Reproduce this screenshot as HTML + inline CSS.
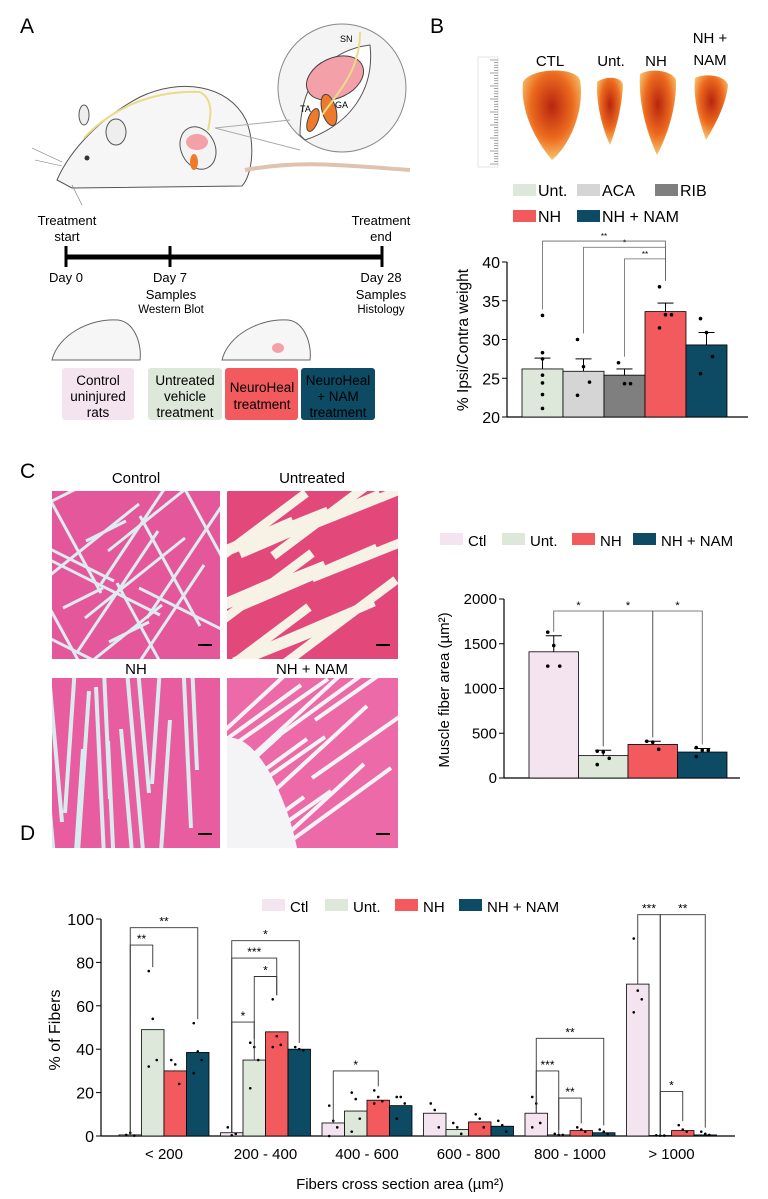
<!DOCTYPE html>
<html><head><meta charset="utf-8"><style>
html,body{margin:0;padding:0;background:#fff;}
body{width:768px;height:1194px;position:relative;overflow:hidden;font-family:"Liberation Sans",sans-serif;}
svg text{font-family:"Liberation Sans",sans-serif;}
</style></head><body>
<svg id="fig" width="768" height="1194" viewBox="0 0 768 1194" xmlns="http://www.w3.org/2000/svg">
<defs>
<radialGradient id="musc" cx="0.5" cy="0.4" r="0.6"><stop offset="0" stop-color="#b8250f"/><stop offset="0.6" stop-color="#ec6a1e"/><stop offset="1" stop-color="#f7c46a"/></radialGradient>
</defs>
<text x="20" y="33" font-size="21">A</text>
<text x="430" y="33" font-size="21">B</text>
<text x="20" y="478" font-size="21">C</text>
<text x="20" y="840" font-size="21">D</text>

<g>
 <path d="M57,180 C70,150 100,118 140,97 C180,78 228,84 246,120 C256,145 252,175 242,186 L72,188 Z" fill="#f6f6f6" stroke="#555" stroke-width="1"/>
 <path d="M84,138 C110,110 150,90 200,92" fill="none" stroke="#e8dc8a" stroke-width="2"/>
 <path d="M200,92 C215,100 210,120 208,130" fill="none" stroke="#e8dc8a" stroke-width="2"/>
 <ellipse cx="84" cy="115" rx="5" ry="10" fill="#eee" stroke="#555"/>
 <ellipse cx="116" cy="132" rx="10" ry="13" fill="#eee" stroke="#555"/>
 <circle cx="87" cy="158" r="2.5" fill="#333"/>
 <ellipse cx="198" cy="148" rx="17" ry="22" fill="#f3f3f3" stroke="#555" transform="rotate(-25 198 148)"/>
 <ellipse cx="197" cy="142" rx="11" ry="8" fill="#f4a0a8"/>
 <ellipse cx="194" cy="162" rx="4" ry="8" fill="#ef7a2a"/>
 <path d="M245,170 C300,160 340,165 410,170" fill="none" stroke="#dfc2b0" stroke-width="4"/>
 <line x1="32" y1="148" x2="62" y2="162" stroke="#777" stroke-width="0.6"/>
 <line x1="35" y1="160" x2="62" y2="166" stroke="#777" stroke-width="0.6"/>
 <line x1="72" y1="185" x2="82" y2="205" stroke="#777" stroke-width="0.6"/>
 <circle cx="342" cy="88" r="64" fill="#f4f4f4" stroke="#888"/>
 <path d="M300,135 C300,80 330,50 370,45 C375,90 350,125 305,140 Z" fill="#fff" stroke="#555"/>
 <ellipse cx="335" cy="78" rx="30" ry="20" fill="#f3a0a8" stroke="#444" transform="rotate(-25 335 78)"/>
 <ellipse cx="313" cy="120" rx="5" ry="12" fill="#ef7a2a" stroke="#444" transform="rotate(20 313 120)"/>
 <ellipse cx="329" cy="110" rx="7" ry="16" fill="#ef7a2a" stroke="#444" transform="rotate(-15 329 110)"/>
 <path d="M360,32 C360,70 340,90 322,115" fill="none" stroke="#e8dc8a" stroke-width="2"/>
 <text x="340" y="42" font-size="9">SN</text><text x="300" y="112" font-size="9">TA</text><text x="335" y="108" font-size="9">GA</text>
 <line x1="215" y1="128" x2="290" y2="120" stroke="#aaa"/>
 <line x1="215" y1="128" x2="300" y2="150" stroke="#aaa"/>
</g>
<g font-size="13">
 <text x="67" y="225" text-anchor="middle">Treatment</text><text x="67" y="241" text-anchor="middle">start</text>
 <text x="381" y="225" text-anchor="middle">Treatment</text><text x="381" y="241" text-anchor="middle">end</text>
 <line x1="66" y1="257" x2="382" y2="257" stroke="#000" stroke-width="5"/>
 <line x1="66" y1="246" x2="66" y2="267" stroke="#000" stroke-width="3"/>
 <line x1="170" y1="246" x2="170" y2="267" stroke="#000" stroke-width="3"/>
 <line x1="382" y1="246" x2="382" y2="267" stroke="#000" stroke-width="3"/>
 <text x="66" y="282" text-anchor="middle">Day 0</text>
 <text x="170" y="282" text-anchor="middle">Day 7</text><text x="171" y="299" text-anchor="middle">Samples</text><text x="171" y="313" text-anchor="middle" font-size="11.5">Western Blot</text>
 <text x="381" y="282" text-anchor="middle">Day 28</text><text x="381" y="299" text-anchor="middle">Samples</text><text x="381" y="313" text-anchor="middle" font-size="11.5">Histology</text>
</g>
<g>
 <path d="M52,360 C58,335 90,318 118,320 C135,322 142,345 140,360 Z" fill="#f6f6f6" stroke="#666"/>
 <path d="M222,360 C228,335 260,318 288,320 C305,322 312,345 310,360 Z" fill="#f6f6f6" stroke="#666"/>
 <ellipse cx="278" cy="348" rx="6" ry="5" fill="#f3a0a8"/>
</g>
<g font-size="13.5" text-anchor="middle">
 <rect x="62" y="368" width="72" height="52" rx="3" fill="#f4e4f0"/>
 <text x="98" y="385">Control</text><text x="98" y="401">uninjured</text><text x="98" y="417">rats</text>
 <rect x="148" y="368" width="74" height="52" rx="3" fill="#dde8da"/>
 <text x="185" y="385">Untreated</text><text x="185" y="401">vehicle</text><text x="185" y="417">treatment</text>
 <rect x="225" y="368" width="73" height="52" rx="3" fill="#f25a5e"/>
 <text x="262" y="392">NeuroHeal</text><text x="262" y="409">treatment</text>
 <rect x="301" y="368" width="74" height="52" rx="3" fill="#0d4a63"/>
 <text x="338" y="385">NeuroHeal</text><text x="338" y="401">+ NAM</text><text x="338" y="417">treatment</text>
</g>

<g>
 <rect x="478" y="57" width="20" height="110" fill="#fff" stroke="#ccc" stroke-width="0.5"/>
 <g id="ruler" stroke="#666" stroke-width="0.6"></g>
 <text x="550" y="66" text-anchor="middle" font-size="15">CTL</text>
 <text x="611" y="66" text-anchor="middle" font-size="15">Unt.</text>
 <text x="656" y="66" text-anchor="middle" font-size="15">NH</text>
 <text x="710" y="43" text-anchor="middle" font-size="15">NH +</text>
 <text x="710" y="65" text-anchor="middle" font-size="15">NAM</text>
 <path d="M523,82 C530,68 575,66 580,80 C585,110 570,145 552,160 C535,140 520,110 523,82Z" fill="url(#musc)"/>
 <path d="M597,82 C605,76 620,76 623,84 C622,110 614,135 610,145 C603,130 596,105 597,82Z" fill="url(#musc)"/>
 <path d="M640,74 C650,68 672,70 676,80 C677,110 665,140 657,155 C648,135 638,105 640,74Z" fill="url(#musc)"/>
 <path d="M695,78 C705,73 725,75 728,85 C726,105 715,125 706,140 C699,120 693,100 695,78Z" fill="url(#musc)"/>
</g>
<g id="chartB"></g>

<g id="histo" font-size="15" text-anchor="middle">
 <text x="136" y="483">Control</text><text x="312" y="483">Untreated</text>
 <text x="136" y="674">NH</text><text x="312" y="674">NH + NAM</text>
</g>
<g id="chartC"></g>
<g id="chartD"></g>
</svg>
<script>
// ---------- Chart B data ----------
const bCategories = ["Unt.", "ACA", "RIB", "NH", "NH + NAM"];
const bValues = [26.2, 25.9, 25.4, 33.6, 29.3];
const bErrors = [27.6, 27.5, 26.2, 34.7, 30.9];
const bPoints = [[33.1,28.3,27.5,25.4,24.4,22.9,21.1],[30.0,26.5,24.5,22.8],[27.0,24.3,24.3],[36.8,33.2,33.2,31.5],[32.7,30.9,27.8,25.6]];
const bTicks = [20, 25, 30, 35, 40];
const bSig = [[0,3,42.7,"**"],[1,3,41.9,"*"],[2,3,40.4,"**"]];
// ---------- Chart C data ----------
const cCategories = ["Ctl", "Unt.", "NH", "NH + NAM"];
const cValues = [1410, 250, 375, 290];
const cErrors = [1590, 310, 410, 330];
const cPoints = [[1630,1480,1250,1250],[300,290,220,150],[410,400,320],[340,310,310,240]];
const cTicks = [0, 500, 1000, 1500, 2000];
const cSig = [[0,1,1866,"*"],[1,2,1866,"*"],[2,3,1866,"*"]];
// ---------- Chart D data ----------
const dCategories = ["< 200", "200 - 400", "400 - 600", "600 - 800", "800 - 1000", "> 1000"];
const dCtl = [0.5, 1.5, 6, 10.5, 10.5, 70];
const dUnt = [49, 35, 11.5, 3, 0.5, 0.2];
const dNH = [30, 48, 16.5, 6.5, 2.5, 2.5];
const dNAM = [38.5, 40, 14, 4.5, 1.5, 0.5];
const dTicks = [0, 20, 40, 60, 80, 100];
// [group, barFrom, barTo, value, label]
const dSig = [[0,0,1,88,"**"],[0,0,3,96,"**"],[1,0,1,52.5,"*"],[1,1,2,73.5,"*"],[1,0,2,82,"***"],[1,0,3,90,"*"],[2,0,2,30,"*"],[4,0,1,30,"***"],[4,1,2,17.5,"**"],[4,0,3,45,"**"],[5,0,1,102,"***"],[5,1,2,20.5,"*"],[5,1,3,102,"**"]];
const dPts = [[[0.5,1.5,0.2],[76,54,35,32],[35,33,24],[52,39,35,29]],[[4,0.3,1],[43,41,35,22],[63,46,42,41],[41,40,39.5]],[[14,7,4,0],[20,17,8,2],[21,18,16,15],[18,18,15,8]],[[15,12,4],[6,4,1],[10,8,4],[7,5,2]],[[18,15,6,4],[1,0.5,0.5],[4,3,2],[3,2,1]],[[91,67,63,57],[0.3,0.2,0.2],[5,3,2],[2,1,0.5]]];

const NS="http://www.w3.org/2000/svg";
function mk(parent, tag, attrs, text){const e=document.createElementNS(NS,tag);for(const k in attrs)e.setAttribute(k,attrs[k]);if(text!==undefined)e.textContent=text;parent.appendChild(e);return e;}

const ruler=document.getElementById('ruler');
for(let i=0;i<=40;i++){const y=60+i*2.6;const l=mk(ruler,'line',{x1:498-(i%5==0?8:4),y1:y,x2:498,y2:y});

}

// ---------- Chart B ----------
(function(){
 const g=document.getElementById('chartB');
 const colors=["#dde8da","#d5d5d5","#7f7f7f","#f25a5e","#0d4a63"];
 const y=v=>417-(v-20)*7.75, x0=522, bw=41;
 const xc=i=>x0+bw*i+bw/2;
 const leg=[[513,196],[577,196],[655,196],[513,222],[577,222]];
 bCategories.forEach((c,i)=>{
  const r=mk(g,'rect',{x:leg[i][0],y:leg[i][1]-12,width:23,height:12,fill:colors[i]});
  
  
  const t=mk(g,'text',{x:leg[i][0]+25,y:leg[i][1],'font-size':16},c);
  
  
 });
 mk(g,'line',{x1:507,y1:417,x2:748,y2:417,stroke:'#000','stroke-width':1.2});
 mk(g,'line',{x1:507,y1:262,x2:507,y2:417,stroke:'#000','stroke-width':1.2});
 bTicks.forEach(t=>{mk(g,'line',{x1:502,y1:y(t),x2:507,y2:y(t),stroke:'#000'});
  const tx=mk(g,'text',{x:500,y:y(t)+6,'text-anchor':'end','font-size':16},t);
  
  });
 const yt=mk(g,'text',{x:0,y:0,transform:'translate(468,340) rotate(-90)','text-anchor':'middle','font-size':15.5},'% Ipsi/Contra weight');
 
 
 bValues.forEach((v,i)=>{
  const r=mk(g,'rect',{x:x0+bw*i,y:y(v),width:bw,height:417-y(v),fill:colors[i],stroke:'#000','stroke-width':0.8});
  
  
  mk(g,'line',{x1:xc(i),y1:y(v),x2:xc(i),y2:y(bErrors[i]),stroke:'#000'});
  mk(g,'line',{x1:xc(i)-8,y1:y(bErrors[i]),x2:xc(i)+8,y2:y(bErrors[i]),stroke:'#000'});
  bPoints[i].forEach((p,j)=>{mk(g,'circle',{cx:xc(i)+((j%3)-1)*6*(bPoints[i].length>4?0:1),cy:y(p),r:1.8,fill:'#000'});});
 });
 bSig.forEach(s=>{const yy=y(s[2]);
  mk(g,'path',{d:`M${xc(s[0])},${y(bPoints[s[0]][0])-6}V${yy}H${xc(s[1])}V${y(bPoints[s[1]][0])-6}`,fill:'none',stroke:'#666','stroke-width':0.8});
  const t=mk(g,'text',{x:(xc(s[0])+xc(s[1]))/2,y:yy-2,'text-anchor':'middle','font-size':8},s[3]);
  
  });
})();

// ---------- Histology ----------
(function(){
 const g=document.getElementById('histo');
 const panels=[[52,491,168,168,'#e4579a','#dcecf0',[[-40,60],[30,55],[60,30],[-20,10],[50,-40]],3],
  [227,491,171,168,'#e2487a','#f6f2e6',[[70,-30],[60,-45],[50,-20]],9],
  [52,678,168,170,'#e85d9f','#d8ecf0',[[8,90],[-6,88],[4,85]],4],
  [227,678,171,170,'#ec6aa8','#f4f4f6',[[60,-55],[55,-40],[50,-35]],4]];
 panels.forEach((p,k)=>{
  const r=mk(g,'rect',{x:p[0],y:p[1],width:p[2],height:p[3],fill:p[4]});
  
  
  const cp=mk(g,'clipPath',{id:'cp'+k});mk(cp,'rect',{x:p[0],y:p[1],width:p[2],height:p[3]});
  const gg=mk(g,'g',{'clip-path':`url(#cp${k})`});
  const n=k==0?22:16;
  for(let i=0;i<n;i++){const d=p[6][i%p[6].length];const sx=p[0]+(i*29)%p[2]-10, sy=p[1]+(i*47)%p[3];
   mk(gg,'line',{x1:sx-d[0],y1:sy-d[1],x2:sx+d[0],y2:sy+d[1],stroke:p[5],'stroke-width':p[7]});}
  if(k==3) mk(gg,'path',{d:`M${p[0]},${p[1]+60} C${p[0]+30},${p[1]+55} ${p[0]+60},${p[1]+120} ${p[0]+70},${p[1]+170} L${p[0]},${p[1]+170}Z`,fill:p[5]});
  mk(g,'line',{x1:p[0]+p[2]-22,y1:p[1]+p[3]-14,x2:p[0]+p[2]-8,y2:p[1]+p[3]-14,stroke:'#000','stroke-width':2});
 });
})();

// ---------- Chart C ----------
(function(){
 const g=document.getElementById('chartC');
 const colors=["#f4e4f0","#dde8da","#f25a5e","#0d4a63"];
 const y=v=>778-v*0.0895, x0=529, bw=49.5;
 const xc=i=>x0+bw*i+bw/2;
 const leg=[440,502,572,633];
 cCategories.forEach((c,i)=>{
  const r=mk(g,'rect',{x:leg[i],y:533,width:23,height:12,fill:colors[i]});
  
  
  const t=mk(g,'text',{x:leg[i]+28,y:546,'font-size':15},c);
  
  
 });
 mk(g,'line',{x1:504,y1:599,x2:504,y2:778,stroke:'#000','stroke-width':1.2});
 mk(g,'line',{x1:504,y1:778,x2:740,y2:778,stroke:'#000','stroke-width':1.2});
 cTicks.forEach(t=>{mk(g,'line',{x1:499,y1:y(t),x2:504,y2:y(t),stroke:'#000'});
  const tx=mk(g,'text',{x:497,y:y(t)+5,'text-anchor':'end','font-size':15},t);
  
  });
 const yt=mk(g,'text',{x:0,y:0,transform:'translate(449,690) rotate(-90)','text-anchor':'middle','font-size':15},'Muscle fiber area (µm²)');
 
 
 cValues.forEach((v,i)=>{
  const r=mk(g,'rect',{x:x0+bw*i,y:y(v),width:bw,height:778-y(v),fill:colors[i],stroke:'#000','stroke-width':0.8});
  
  
  mk(g,'line',{x1:xc(i),y1:y(v),x2:xc(i),y2:y(cErrors[i]),stroke:'#000'});
  mk(g,'line',{x1:xc(i)-8,y1:y(cErrors[i]),x2:xc(i)+8,y2:y(cErrors[i]),stroke:'#000'});
  cPoints[i].forEach((p,j)=>mk(g,'circle',{cx:xc(i)+((j%3)-1)*6,cy:y(p),r:1.8,fill:'#000'}));
 });
 cSig.forEach(s=>{const yy=y(s[2]);
  mk(g,'path',{d:`M${xc(s[0])},${y(cErrors[s[0]])-4}V${yy}H${xc(s[1])}V${y(cErrors[s[1]])-4}`,fill:'none',stroke:'#555','stroke-width':0.8});
  const t=mk(g,'text',{x:(xc(s[0])+xc(s[1]))/2,y:yy-2,'text-anchor':'middle','font-size':11},s[3]);
  
  });
})();

// ---------- Chart D ----------
(function(){
 const g=document.getElementById('chartD');
 const colors=["#f4e4f0","#dde8da","#f25a5e","#0d4a63"];
 const series=[dCtl,dUnt,dNH,dNAM];
 const names=["Ctl","Unt.","NH","NH + NAM"];
 const Y0=1136, K=2.17;
 const y=v=>Y0-v*K, bw=22.5;
 const gc=i=>164+i*101.5;
 const xc=(gi,s)=>gc(gi)-2*bw+bw*s+bw/2;
 const leg=[262,325,395,459];
 names.forEach((c,i)=>{
  const r=mk(g,'rect',{x:leg[i],y:899,width:23,height:12,fill:colors[i]});
  
  
  const t=mk(g,'text',{x:leg[i]+28,y:912,'font-size':15},c);
  
  
 });
 mk(g,'line',{x1:101,y1:y(100),x2:101,y2:Y0,stroke:'#000','stroke-width':1.2});
 mk(g,'line',{x1:101,y1:Y0,x2:735,y2:Y0,stroke:'#000','stroke-width':1.2});
 dTicks.forEach(t=>{mk(g,'line',{x1:96,y1:y(t),x2:101,y2:y(t),stroke:'#000'});
  const tx=mk(g,'text',{x:94,y:y(t)+6,'text-anchor':'end','font-size':16},t);
  
  });
 const yt=mk(g,'text',{x:0,y:0,transform:'translate(60,1030) rotate(-90)','text-anchor':'middle','font-size':16},'% of Fibers');
 
 
 const xt=mk(g,'text',{x:400,y:1189,'text-anchor':'middle','font-size':15},'Fibers cross section area (µm²)');
 
 
 dCategories.forEach((c,gi)=>{
  const t=mk(g,'text',{x:gc(gi),y:1159,'text-anchor':'middle','font-size':15},c);
  
  
  series.forEach((s,si)=>{
   const v=s[gi];
   const r=mk(g,'rect',{x:xc(gi,si)-bw/2,y:y(v),width:bw,height:Y0-y(v),fill:colors[si],stroke:'#000','stroke-width':0.8});
   
   
   dPts[gi][si].forEach((p,j)=>mk(g,'circle',{cx:xc(gi,si)+((j%3)-1)*4,cy:y(p),r:1.3,fill:'#000'}));
  });
 });
 dSig.forEach(s=>{const yy=y(s[3]);const a=xc(s[0],s[1]),b=xc(s[0],s[2]);
  const tops=[series[s[1]][s[0]],series[s[2]][s[0]]];
  mk(g,'path',{d:`M${a},${y(tops[0])}V${yy}H${b}V${y(Math.max(...dPts[s[0]][s[2]]))-4}`,fill:'none',stroke:'#333','stroke-width':0.9});
  const t=mk(g,'text',{x:(a+b)/2,y:yy-2,'text-anchor':'middle','font-size':12},s[4]);
  
  });
})();
</script>
</body></html>
